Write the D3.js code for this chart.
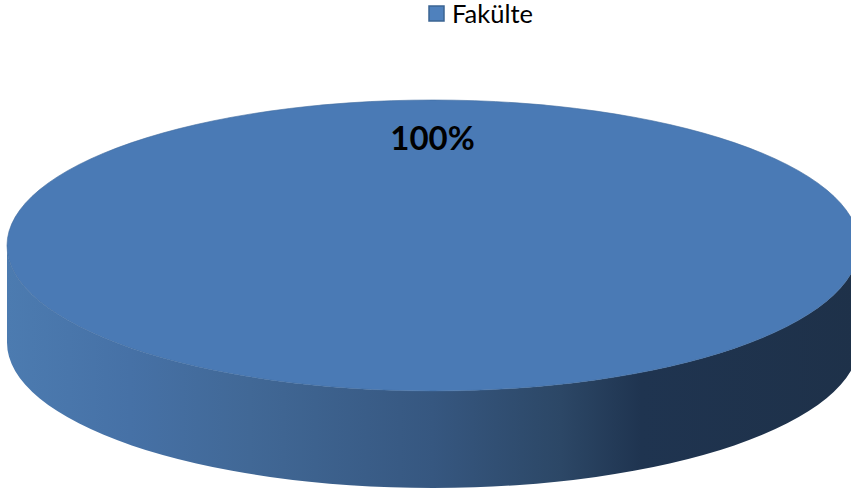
<!DOCTYPE html>
<html>
<head>
<meta charset="utf-8">
<script src="https://cdn.jsdelivr.net/npm/d3@7"></script>
<style>
  html, body { margin: 0; padding: 0; background: #fff; overflow: hidden; }
  text { font-family: Lato, "Open Sans", sans-serif; }
</style>
</head>
<body>
<div id="chart"></div>
<script>
// Data
var categories = ["Fakülte"];
var values = [100];
var labels = ["100%"];

// Dimensions, the disc runs slightly past the right edge
var width = 851, height = 492;
var cx = 433, cy = 245.5, rx = 426, ry = 145.5, depth = 97;

var svg = d3.select("#chart").append("svg")
    .attr("width", width)
    .attr("height", height);

var defs = svg.append("defs");

// Side shading, light on the left and nearly navy on the right
var sideGrad = defs.append("linearGradient")
    .attr("id", "side-grad")
    .attr("gradientUnits", "userSpaceOnUse")
    .attr("x1", cx - rx).attr("x2", cx + rx)
    .attr("y1", 0).attr("y2", 0);

[[0, "#4c7bb0"], [0.145, "#4671a6"], [0.285, "#416896"], [0.5, "#365780"], [0.65, "#2c4766"], [0.745, "#1f3450"], [1, "#1e3149"]]
  .forEach(function (s) {
    sideGrad.append("stop").attr("offset", s[0]).attr("stop-color", s[1]);
  });

// Slices, a unit circle squashed into an ellipse
var pie = d3.pie().sort(null);
var arc = d3.arc().innerRadius(0).outerRadius(1);
var slices = pie(values);

var px = d3.scaleLinear().domain([-1, 1]).range([cx - rx, cx + rx]);
var py = d3.scaleLinear().domain([-1, 1]).range([cy - ry, cy + ry]);

// Side wall: the front half of the rim pushed down by the depth
var radii = "A" + rx + "," + ry + " 0 0 ";
var side = "M" + px(-1) + "," + py(0)
    + radii + "0 " + px(1) + "," + py(0)
    + "L" + px(1) + "," + (py(0) + depth)
    + radii + "1 " + px(-1) + "," + (py(0) + depth)
    + "Z";

svg.append("path")
    .attr("d", side)
    .attr("fill", "url(#side-grad)");

// Top face
svg.selectAll("path.slice")
    .data(slices)
    .enter()
    .append("path")
    .attr("class", "slice")
    .attr("d", arc)
    .attr("transform", "translate(" + cx + "," + cy + ") scale(" + rx + "," + ry + ")")
    .attr("fill", "#4a7ab5")
    .attr("stroke", "#3f6a9f")
    .attr("stroke-width", 1)
    .attr("stroke-opacity", 0.6)
    .attr("vector-effect", "non-scaling-stroke");

// Data label
svg.selectAll("text.value")
    .data(labels)
    .enter()
    .append("text")
    .attr("class", "value")
    .attr("x", 432.5)
    .attr("y", 150)
    .attr("text-anchor", "middle")
    .attr("font-size", 33)
    .attr("font-weight", "bold")
    .attr("fill", "#000")
    .text(function (d) { return d; });

// Legend
var legend = svg.selectAll("g.legend")
    .data(categories)
    .enter()
    .append("g")
    .attr("class", "legend");

legend.append("rect")
    .attr("x", 429)
    .attr("y", 6)
    .attr("width", 15)
    .attr("height", 15)
    .attr("fill", "#4f81bd")
    .attr("stroke", "#3b6492")
    .attr("stroke-width", 1.5);

legend.append("text")
    .attr("x", 452)
    .attr("y", 22.5)
    .attr("font-size", 25.5)
    .attr("fill", "#000")
    .text(function (d) { return d; });
</script>
</body>
</html>
